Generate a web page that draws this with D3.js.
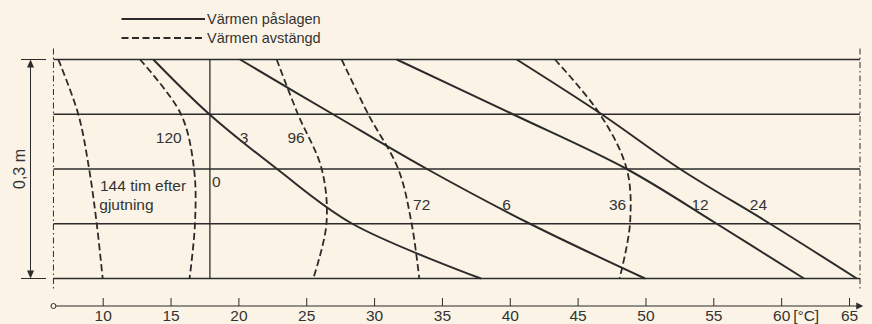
<!DOCTYPE html>
<html><head><meta charset="utf-8">
<script src="https://cdn.jsdelivr.net/npm/d3@7"></script>
<style>
html,body{margin:0;padding:0;background:#fbf4e6;}
svg{display:block;}
text{font-family:"Liberation Sans",Arial,Helvetica,sans-serif;fill:#333;}
</style></head><body>
<svg id="c" width="872" height="324"></svg>
<script>
// depth through the wall (m), top to bottom
const depths = [0, 0.075, 0.15, 0.225, 0.3];
// temperature profiles (°C) – heating on (solid)
const temp0  = [17.9, 17.9, 17.9, 17.9, 17.9];
const temp3  = [13.73, 17.86, 22.85, 28.4, 37.88];
const temp6  = [20.12, 26.97, 33.9, 41.49, 49.97];
const temp12 = [31.67, 40.23, 48.62, 55.25, 61.68];
const temp24 = [40.51, 46.77, 52.55, 59.18, 65.57];
// heating off (dashed)
const temp36  = [43.33, 46.65, 48.62, 48.86, 48.09];
const temp72  = [27.61, 29.57, 31.78, 32.77, 33.33];
const temp96  = [22.82, 24.39, 26.14, 26.49, 25.52];
const temp120 = [12.75, 15.77, 16.73, 16.8, 16.4];
const temp144 = [6.73, 8.2, 9.0, 9.56, 10.0];
// axis ticks
const tickValues = [10, 15, 20, 25, 30, 35, 40, 45, 50, 55, 60, 65];
const unitLabel = "[°C]";
const legendLabels = ["Värmen påslagen", "Värmen avstängd"];
const dimLabel = "0,3 m";

const solidSeries = [temp0, temp3, temp6, temp12, temp24];
const dashedSeries = [temp36, temp72, temp96, temp120, temp144];

// curve annotations (in data coordinates)
const annotations = [
  {text: "120", t: 15.82, d: 0.107, anchor: "end"},
  {text: "3", t: 20.41, d: 0.107, anchor: "middle"},
  {text: "96", t: 24.25, d: 0.107, anchor: "middle"},
  {text: "0", t: 18.05, d: 0.167, anchor: "start"},
  {text: "144 tim efter", t: 9.8, d: 0.173, anchor: "start"},
  {text: "gjutning", t: 9.75, d: 0.199, anchor: "start"},
  {text: "72", t: 32.87, d: 0.198, anchor: "start"},
  {text: "6", t: 39.76, d: 0.198, anchor: "middle"},
  {text: "36", t: 47.94, d: 0.198, anchor: "middle"},
  {text: "12", t: 54.02, d: 0.198, anchor: "middle"},
  {text: "24", t: 58.33, d: 0.198, anchor: "middle"}
];

const wallLeft = 6.37, wallRight = 65.81, axisEnd = 66.05;
const ink = "#2b2b2b", bg = "#fbf4e6";
const fs = 15.5;

const svg = d3.select("#c");
const x = d3.scaleLinear().domain([10, 65]).range([102.7, 849]);
const y = d3.scaleLinear().domain([0, 0.3]).range([59.5, 278.5]);

// wall layer lines
svg.append("g").selectAll("line").data(depths).join("line")
  .attr("x1", x(wallLeft)).attr("x2", x(wallRight))
  .attr("y1", d => y(d)).attr("y2", d => y(d))
  .attr("stroke", ink).attr("stroke-width", 1.4);

// boundary dash-dot lines
[wallLeft, wallRight].forEach(t => {
  svg.append("line").attr("x1", x(t)).attr("x2", x(t))
    .attr("y1", y(0) - 11).attr("y2", y(0.3) + 10)
    .attr("stroke", ink).attr("stroke-width", 1)
    .attr("stroke-dasharray", "6,3,1.5,3");
});

const line = d3.line().x(p => x(p[0])).y(p => y(p[1])).curve(d3.curveCatmullRom.alpha(0.5));

svg.append("g").selectAll("path").data(solidSeries).join("path")
  .attr("d", s => line(s.map((t, i) => [t, depths[i]])))
  .attr("fill", "none").attr("stroke", ink)
  .attr("stroke-width", (s, i) => i === 0 ? 1.3 : 2);

svg.append("g").selectAll("path").data(dashedSeries).join("path")
  .attr("d", s => line(s.map((t, i) => [t, depths[i]])))
  .attr("fill", "none").attr("stroke", ink)
  .attr("stroke-width", 1.8).attr("stroke-dasharray", "7,3.5");

// annotations
svg.append("g").selectAll("text").data(annotations).join("text")
  .attr("x", a => x(a.t)).attr("y", a => y(a.d))
  .attr("text-anchor", a => a.anchor).attr("dominant-baseline", "central")
  .attr("font-size", fs).text(a => a.text);

// bottom axis
const axisY = 306;
const axis = d3.axisBottom(x).tickValues(tickValues).tickSize(-8).tickPadding(4).tickFormat(d => d);
const ag = svg.append("g").attr("transform", `translate(0,${axisY})`).call(axis);
ag.select(".domain").remove();
ag.selectAll(".tick line").attr("stroke", ink).attr("stroke-width", 1);
ag.selectAll(".tick text").attr("font-size", fs)
  .attr("font-family", '"Liberation Sans",Arial,sans-serif').attr("fill", "#333");
svg.append("line").attr("x1", x(wallLeft) + 2.5).attr("x2", x(axisEnd) - 4)
  .attr("y1", axisY).attr("y2", axisY).attr("stroke", ink).attr("stroke-width", 1);
svg.append("circle").attr("cx", x(wallLeft)).attr("cy", axisY).attr("r", 2.5)
  .attr("fill", bg).attr("stroke", ink).attr("stroke-width", 1);
const ax = x(axisEnd);
svg.append("path").attr("d", `M${ax},${axisY}L${ax-7},${axisY-3.5}L${ax-7},${axisY+3.5}Z`).attr("fill", ink);
svg.append("text").attr("x", x(60) + 12).attr("y", axisY + 4).attr("dy", "0.71em")
  .attr("font-size", fs).text(unitLabel);

// dimension arrow
const dx = 30.5;
svg.append("line").attr("x1", dx).attr("x2", dx).attr("y1", y(0) + 4).attr("y2", y(0.3) - 4)
  .attr("stroke", ink).attr("stroke-width", 1);
svg.append("path").attr("d", `M${dx},${y(0)}L${dx-3.5},${y(0)+8}L${dx+3.5},${y(0)+8}Z`).attr("fill", ink);
svg.append("path").attr("d", `M${dx},${y(0.3)}L${dx-3.5},${y(0.3)-8}L${dx+3.5},${y(0.3)-8}Z`).attr("fill", ink);
[0, 0.3].forEach(d => svg.append("line").attr("x1", 21).attr("x2", 46)
  .attr("y1", y(d)).attr("y2", y(d)).attr("stroke", ink).attr("stroke-width", 1));
svg.append("text").attr("transform", `translate(19,${(y(0) + y(0.3)) / 2}) rotate(-90)`)
  .attr("text-anchor", "middle").attr("dominant-baseline", "central")
  .attr("font-size", 16).text(dimLabel);

// legend
const legY = [19, 38];
legY.forEach((ly, i) => {
  svg.append("line").attr("x1", 121.5).attr("x2", 205).attr("y1", ly).attr("y2", ly)
    .attr("stroke", ink).attr("stroke-width", 2)
    .attr("stroke-dasharray", i === 1 ? "7,3.5" : null);
  svg.append("text").attr("x", 207).attr("y", ly).attr("dominant-baseline", "central")
    .attr("font-size", 14.5).text(legendLabels[i]);
});
</script></body></html>
